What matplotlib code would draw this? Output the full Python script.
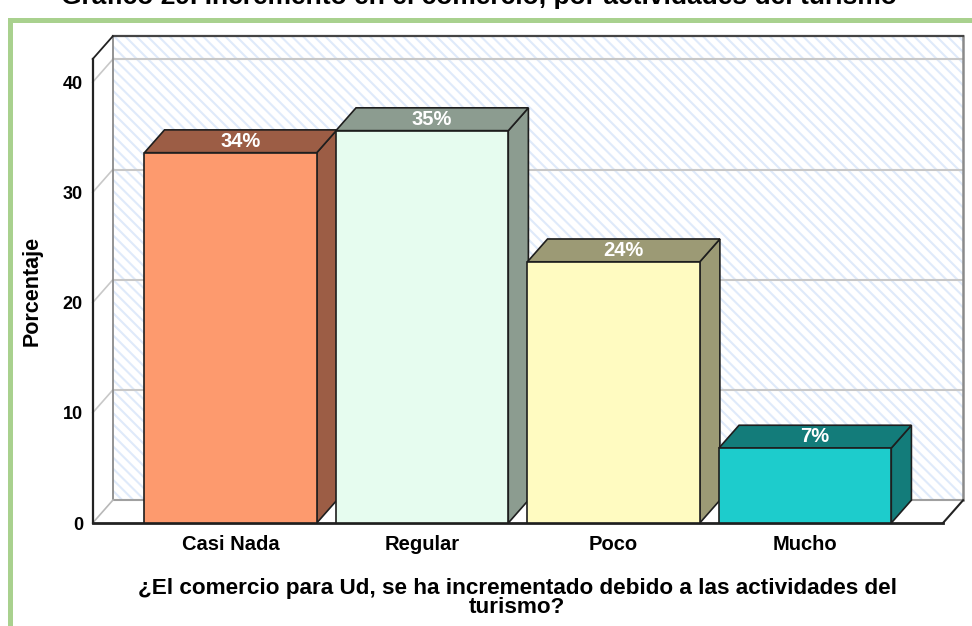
import matplotlib
matplotlib.use('Agg')
import matplotlib.pyplot as plt
from matplotlib.patches import Rectangle, Polygon
from matplotlib.lines import Line2D

# ---------------- data ----------------
categories = ['Casi Nada', 'Regular', 'Poco', 'Mucho']
values = [33.6, 35.6, 23.7, 6.8]
value_labels = ['34%', '35%', '24%', '7%']
yticks = [0, 10, 20, 30, 40]
front_colors = ['#fd9a6e', '#e6fcef', '#fffbc1', '#1dcccc']
shade_colors = ['#9c5d45', '#8c9c90', '#9c9a75', '#137c7a']

title = 'Gráfico 29. Incremento en el comercio, por actividades del turismo'
xlabel = '¿El comercio para Ud, se ha incrementado debido a las actividades del\nturismo?'
ylabel = 'Porcentaje'

plt.rcParams['font.family'] = ['Liberation Sans', 'DejaVu Sans']
plt.rcParams['hatch.linewidth'] = 1.5

W, H = 972, 626
fig = plt.figure(figsize=(W / 100, H / 100), dpi=100)
fig.patch.set_facecolor('white')

# green frame
fig.patches.append(Rectangle((10 / W, -0.2), 1.2, 1 - 20 / H + 0.2,
                             transform=fig.transFigure, facecolor='none',
                             edgecolor='#a9d18e', lw=3.6, zorder=0))

left_px, right_px, base_px, top_px = 92.7, 943, 523, 59
ax = fig.add_axes([left_px / W, 1 - base_px / H, (right_px - left_px) / W,
                   (base_px - top_px) / H])
n = len(categories)
xmin, xmax = -0.72, n - 1 + 0.72
ymax = 42.1
dx, dy = 0.105, 2.07
ax.set_xlim(xmin, xmax)
ax.set_ylim(0, ymax)
ax.set_facecolor('none')
for s in ax.spines.values():
    s.set_visible(False)

def line(xs, ys, color, lw, z):
    ax.add_line(Line2D(xs, ys, color=color, lw=lw, zorder=z, clip_on=False,
                       solid_capstyle='projecting'))

# back wall
ax.add_patch(Rectangle((xmin + dx, dy), xmax - xmin, ymax, facecolor='white',
                       edgecolor='#dfeafa', hatch='\\\\\\', lw=0, zorder=0.5,
                       clip_on=False))
for t in yticks[1:]:
    line([xmin + dx, xmax + dx], [t + dy, t + dy], '#c8c8c8', 1.5, 0.6)
    line([xmin, xmin + dx], [t, t + dy], '#c8c8c8', 1.2, 0.6)
line([xmin + dx, xmin + dx], [dy, ymax + dy], '#8a8a8a', 1.3, 0.7)
line([xmax + dx, xmax + dx], [dy, ymax + dy], '#8a8a8a', 1.8, 0.7)
line([xmin + dx, xmax + dx], [ymax + dy, ymax + dy], '#444444', 1.6, 0.7)

# floor
ax.add_patch(Polygon([(xmin, 0), (xmax, 0), (xmax + dx, dy), (xmin + dx, dy)],
                     closed=True, facecolor='white', edgecolor='none',
                     zorder=0.8, clip_on=False))
line([xmin + dx, xmax + dx], [dy, dy], '#a0a0a0', 1.5, 0.9)
line([xmin, xmin + dx], [0, dy], '#b8b8b8', 1.2, 0.9)
line([xmax, xmax + dx], [0, dy], '#222222', 1.5, 0.9)
line([xmin, xmax], [0, 0], '#222222', 2.0, 0.9)

# front-left axis
line([xmin, xmin], [0, ymax], '#222222', 1.6, 0.9)
line([xmin, xmin + dx], [ymax, ymax + dy], '#222222', 1.3, 0.9)

# bars
bw = 0.9
ec = '#1e1e1e'
for i, (v, fc, sc, lab) in enumerate(zip(values, front_colors, shade_colors, value_labels)):
    x0, x1 = i - bw / 2, i + bw / 2
    z = 2 + i
    ax.add_patch(Polygon([(x1, 0), (x1 + dx, dy), (x1 + dx, v + dy), (x1, v)],
                         closed=True, facecolor=sc, edgecolor=ec, lw=1.2,
                         zorder=z, clip_on=False, joinstyle='miter'))
    ax.add_patch(Polygon([(x0, v), (x1, v), (x1 + dx, v + dy), (x0 + dx, v + dy)],
                         closed=True, facecolor=sc, edgecolor=ec, lw=1.2,
                         zorder=z, clip_on=False, joinstyle='miter'))
    ax.add_patch(Rectangle((x0, 0), bw, v, facecolor=fc, edgecolor=ec, lw=1.2,
                           zorder=z + 0.1, clip_on=False, joinstyle='miter'))
    ax.text(i + dx / 2, v + dy / 2, lab, color='white', fontsize=14.5,
            fontweight='bold', ha='center', va='center', zorder=10)

ax.set_yticks(yticks)
ax.set_yticklabels([str(t) for t in yticks], fontsize=13, fontweight='bold')
ax.set_xticks(range(n))
ax.set_xticklabels(categories, fontsize=14.5, fontweight='bold')
ax.tick_params(axis='y', length=0, pad=7)
ax.tick_params(axis='x', length=0, pad=9)

fig.text(32 / W, 1 - 291 / H, ylabel, rotation=90, ha='center', va='center',
         fontsize=15.5, fontweight='bold')
fig.text(517 / W, 1 - 598 / H, xlabel, ha='center', va='center',
         fontsize=16.2, fontweight='bold', linespacing=0.88)
fig.text(479 / W, 1 - 4 / H, title, ha='center', va='baseline',
         fontsize=19, fontweight='bold')

fig.savefig('out.png', dpi=100, facecolor='white')
